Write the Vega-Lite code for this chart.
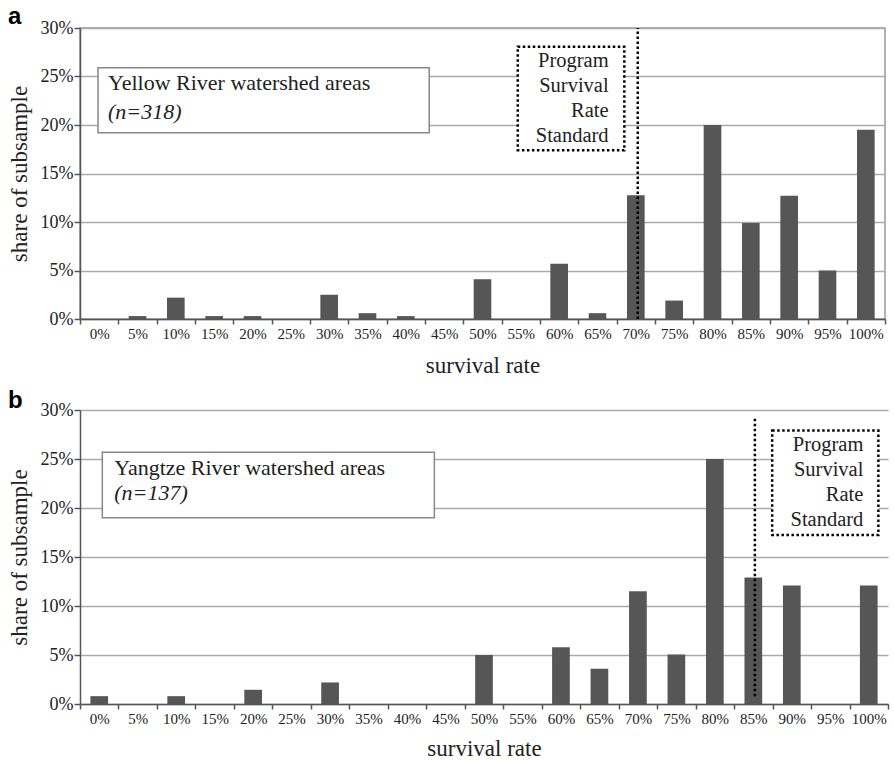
{
  "$schema": "https://vega.github.io/schema/vega-lite/v6.json",
  "padding": {"left": 7, "top": 4, "right": 6, "bottom": 2},
  "background": "white",
  "spacing": 11,
  "datasets": {
    "yellow": [
      {"rate": "0%", "share": 0}, {"rate": "5%", "share": 0.3}, {"rate": "10%", "share": 2.2},
      {"rate": "15%", "share": 0.3}, {"rate": "20%", "share": 0.3}, {"rate": "25%", "share": 0},
      {"rate": "30%", "share": 2.5}, {"rate": "35%", "share": 0.6}, {"rate": "40%", "share": 0.3},
      {"rate": "45%", "share": 0}, {"rate": "50%", "share": 4.1}, {"rate": "55%", "share": 0},
      {"rate": "60%", "share": 5.7}, {"rate": "65%", "share": 0.6}, {"rate": "70%", "share": 12.75},
      {"rate": "75%", "share": 1.9}, {"rate": "80%", "share": 20.0}, {"rate": "85%", "share": 9.9},
      {"rate": "90%", "share": 12.7}, {"rate": "95%", "share": 5.0}, {"rate": "100%", "share": 19.5}
    ],
    "yangtze": [
      {"rate": "0%", "share": 0.8}, {"rate": "5%", "share": 0}, {"rate": "10%", "share": 0.8},
      {"rate": "15%", "share": 0}, {"rate": "20%", "share": 1.45}, {"rate": "25%", "share": 0},
      {"rate": "30%", "share": 2.2}, {"rate": "35%", "share": 0}, {"rate": "40%", "share": 0},
      {"rate": "45%", "share": 0}, {"rate": "50%", "share": 5.0}, {"rate": "55%", "share": 0},
      {"rate": "60%", "share": 5.8}, {"rate": "65%", "share": 3.6}, {"rate": "70%", "share": 11.5},
      {"rate": "75%", "share": 5.05}, {"rate": "80%", "share": 25.0}, {"rate": "85%", "share": 12.9},
      {"rate": "90%", "share": 12.1}, {"rate": "95%", "share": 0}, {"rate": "100%", "share": 12.1}
    ]
  },
  "config": {
    "font": "Liberation Serif",
    "view": {"stroke": null},
    "axis": {
      "labelFont": "Liberation Serif",
      "titleFont": "Liberation Serif",
      "labelColor": "#222",
      "titleColor": "#222",
      "titleFontWeight": "normal",
      "domainColor": "#555",
      "domainWidth": 1.5,
      "tickColor": "#555",
      "tickWidth": 1.5,
      "gridColor": "#aaaaaa",
      "gridWidth": 1.5
    },
    "title": {"font": "Liberation Sans", "fontWeight": "bold", "fontSize": 24, "color": "#000", "anchor": "start"}
  },
  "vconcat": [
    {
      "width": 805,
      "height": 291,
      "title": {"text": "a", "offset": -10},
      "view": {"stroke": "#999", "strokeWidth": 1.5},
      "resolve": {"scale": {"x": "independent"}},
      "layer": [
        {
          "data": {"name": "yellow"},
          "mark": {"type": "bar", "color": "#565656", "width": {"band": 0.46}},
          "encoding": {
            "x": {
              "field": "rate", "type": "ordinal", "sort": null,
              "scale": {"paddingInner": 0, "paddingOuter": 0},
              "axis": {"title": "survival rate", "labelAngle": 0, "tickBand": "extent", "labelFontSize": 15, "labelPadding": 2, "tickSize": 5, "titleFontSize": 23, "titlePadding": 13}
            },
            "y": {
              "field": "share", "type": "quantitative",
              "scale": {"domain": [0, 30], "nice": false},
              "axis": {"title": "share of subsample", "values": [0, 5, 10, 15, 20, 25, 30], "labelExpr": "datum.value + '%'", "labelFontSize": 18, "labelPadding": 1, "tickSize": 6, "titleFontSize": 23, "titlePadding": 9}
            }
          }
        },
        {
          "data": {"values": [{}]},
          "mark": {"type": "rule", "color": "#000", "strokeWidth": 2.5, "strokeDash": [2.5, 2.5]},
          "encoding": {
            "x": {"datum": 14.55, "type": "quantitative", "scale": {"domain": [0, 21], "nice": false, "zero": false}, "axis": null},
            "y": {"datum": 0, "type": "quantitative"},
            "y2": {"datum": 30}
          }
        },
        {
          "data": {"values": [{}]},
          "mark": {"type": "rect", "fill": "white", "stroke": "#888", "strokeWidth": 1.5},
          "encoding": {
            "x": {"datum": 0.47, "type": "quantitative", "scale": {"domain": [0, 21], "nice": false, "zero": false}, "axis": null},
            "x2": {"datum": 9.11},
            "y": {"datum": 25.9, "type": "quantitative"},
            "y2": {"datum": 19.2}
          }
        },
        {
          "data": {"values": [{}]},
          "mark": {"type": "text", "align": "left", "baseline": "alphabetic", "fontSize": 22, "color": "#222", "text": "Yellow River watershed areas"},
          "encoding": {
            "x": {"datum": 0.73, "type": "quantitative", "scale": {"domain": [0, 21], "nice": false, "zero": false}, "axis": null},
            "y": {"datum": 23.6, "type": "quantitative"}
          }
        },
        {
          "data": {"values": [{}]},
          "mark": {"type": "text", "align": "left", "baseline": "alphabetic", "fontSize": 22, "fontStyle": "italic", "color": "#222", "text": "(n=318)"},
          "encoding": {
            "x": {"datum": 0.73, "type": "quantitative", "scale": {"domain": [0, 21], "nice": false, "zero": false}, "axis": null},
            "y": {"datum": 20.6, "type": "quantitative"}
          }
        },
        {
          "data": {"values": [{}]},
          "mark": {"type": "rect", "fill": "white", "stroke": "#000", "strokeWidth": 2.5, "strokeDash": [2.5, 2.5]},
          "encoding": {
            "x": {"datum": 11.42, "type": "quantitative", "scale": {"domain": [0, 21], "nice": false, "zero": false}, "axis": null},
            "x2": {"datum": 14.2},
            "y": {"datum": 28.07, "type": "quantitative"},
            "y2": {"datum": 17.4}
          }
        },
        {
          "data": {"values": [{}]},
          "mark": {"type": "text", "align": "right", "baseline": "alphabetic", "fontSize": 20.5, "lineHeight": 25, "color": "#222", "text": ["Program", "Survival", "Rate", "Standard"]},
          "encoding": {
            "x": {"datum": 13.79, "type": "quantitative", "scale": {"domain": [0, 21], "nice": false, "zero": false}, "axis": null},
            "y": {"datum": 26.0, "type": "quantitative"}
          }
        }
      ]
    },
    {
      "width": 808,
      "height": 294,
      "title": {"text": "b", "offset": -12},
      "resolve": {"scale": {"x": "independent"}},
      "layer": [
        {
          "data": {"name": "yangtze"},
          "mark": {"type": "bar", "color": "#565656", "width": {"band": 0.46}},
          "encoding": {
            "x": {
              "field": "rate", "type": "ordinal", "sort": null,
              "scale": {"paddingInner": 0, "paddingOuter": 0},
              "axis": {"title": "survival rate", "labelAngle": 0, "tickBand": "extent", "labelFontSize": 15, "labelPadding": 2, "tickSize": 5, "titleFontSize": 23, "titlePadding": 11}
            },
            "y": {
              "field": "share", "type": "quantitative",
              "scale": {"domain": [0, 30], "nice": false},
              "axis": {"title": "share of subsample", "values": [0, 5, 10, 15, 20, 25, 30], "labelExpr": "datum.value + '%'", "labelFontSize": 18, "labelPadding": 1, "tickSize": 6, "titleFontSize": 23, "titlePadding": 9}
            }
          }
        },
        {
          "data": {"values": [{}]},
          "mark": {"type": "rule", "color": "#000", "strokeWidth": 2.5, "strokeDash": [2.5, 2.5]},
          "encoding": {
            "x": {"datum": 17.54, "type": "quantitative", "scale": {"domain": [0, 21], "nice": false, "zero": false}, "axis": null},
            "y": {"datum": 0.8, "type": "quantitative"},
            "y2": {"datum": 29.1}
          }
        },
        {
          "data": {"values": [{}]},
          "mark": {"type": "rect", "fill": "white", "stroke": "#888", "strokeWidth": 1.5},
          "encoding": {
            "x": {"datum": 0.58, "type": "quantitative", "scale": {"domain": [0, 21], "nice": false, "zero": false}, "axis": null},
            "x2": {"datum": 9.21},
            "y": {"datum": 25.7, "type": "quantitative"},
            "y2": {"datum": 19.0}
          }
        },
        {
          "data": {"values": [{}]},
          "mark": {"type": "text", "align": "left", "baseline": "alphabetic", "fontSize": 22, "color": "#222", "text": "Yangtze River watershed areas"},
          "encoding": {
            "x": {"datum": 0.89, "type": "quantitative", "scale": {"domain": [0, 21], "nice": false, "zero": false}, "axis": null},
            "y": {"datum": 23.35, "type": "quantitative"}
          }
        },
        {
          "data": {"values": [{}]},
          "mark": {"type": "text", "align": "left", "baseline": "alphabetic", "fontSize": 22, "fontStyle": "italic", "color": "#222", "text": "(n=137)"},
          "encoding": {
            "x": {"datum": 0.89, "type": "quantitative", "scale": {"domain": [0, 21], "nice": false, "zero": false}, "axis": null},
            "y": {"datum": 20.8, "type": "quantitative"}
          }
        },
        {
          "data": {"values": [{}]},
          "mark": {"type": "rect", "fill": "white", "stroke": "#000", "strokeWidth": 2.5, "strokeDash": [2.5, 2.5]},
          "encoding": {
            "x": {"datum": 17.99, "type": "quantitative", "scale": {"domain": [0, 21], "nice": false, "zero": false}, "axis": null},
            "x2": {"datum": 20.75},
            "y": {"datum": 27.9, "type": "quantitative"},
            "y2": {"datum": 17.25}
          }
        },
        {
          "data": {"values": [{}]},
          "mark": {"type": "text", "align": "right", "baseline": "alphabetic", "fontSize": 20.5, "lineHeight": 25, "color": "#222", "text": ["Program", "Survival", "Rate", "Standard"]},
          "encoding": {
            "x": {"datum": 20.36, "type": "quantitative", "scale": {"domain": [0, 21], "nice": false, "zero": false}, "axis": null},
            "y": {"datum": 25.8, "type": "quantitative"}
          }
        }
      ]
    }
  ]
}
